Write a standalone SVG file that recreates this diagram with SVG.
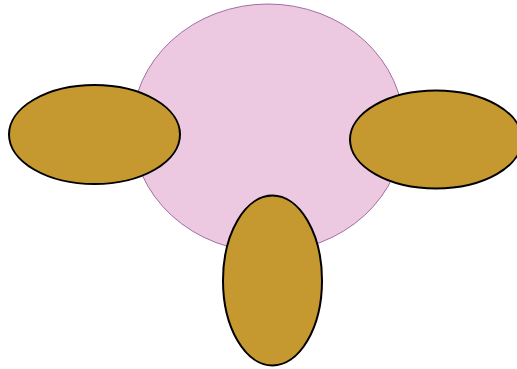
<svg xmlns="http://www.w3.org/2000/svg" width="517" height="369" viewBox="0 0 517 369">
<style>
.gold{fill:#c69830;stroke:#000;stroke-width:2}
.pink{fill:#ecc9e1;stroke:#8c4f8c;stroke-width:0.8}
</style>
<rect width="517" height="369" fill="#fff"/>
<g id="center"><ellipse class="pink" cx="268" cy="128" rx="136" ry="124"/></g>
<g id="connectors"></g>
<g id="left"><ellipse class="gold" cx="94.5" cy="134.5" rx="85.5" ry="49.5"/></g>
<g id="right"><ellipse class="gold" cx="436" cy="139.5" rx="86" ry="49"/></g>
<g id="bottom"><ellipse class="gold" cx="272.5" cy="280.5" rx="49.5" ry="85"/></g>
</svg>
